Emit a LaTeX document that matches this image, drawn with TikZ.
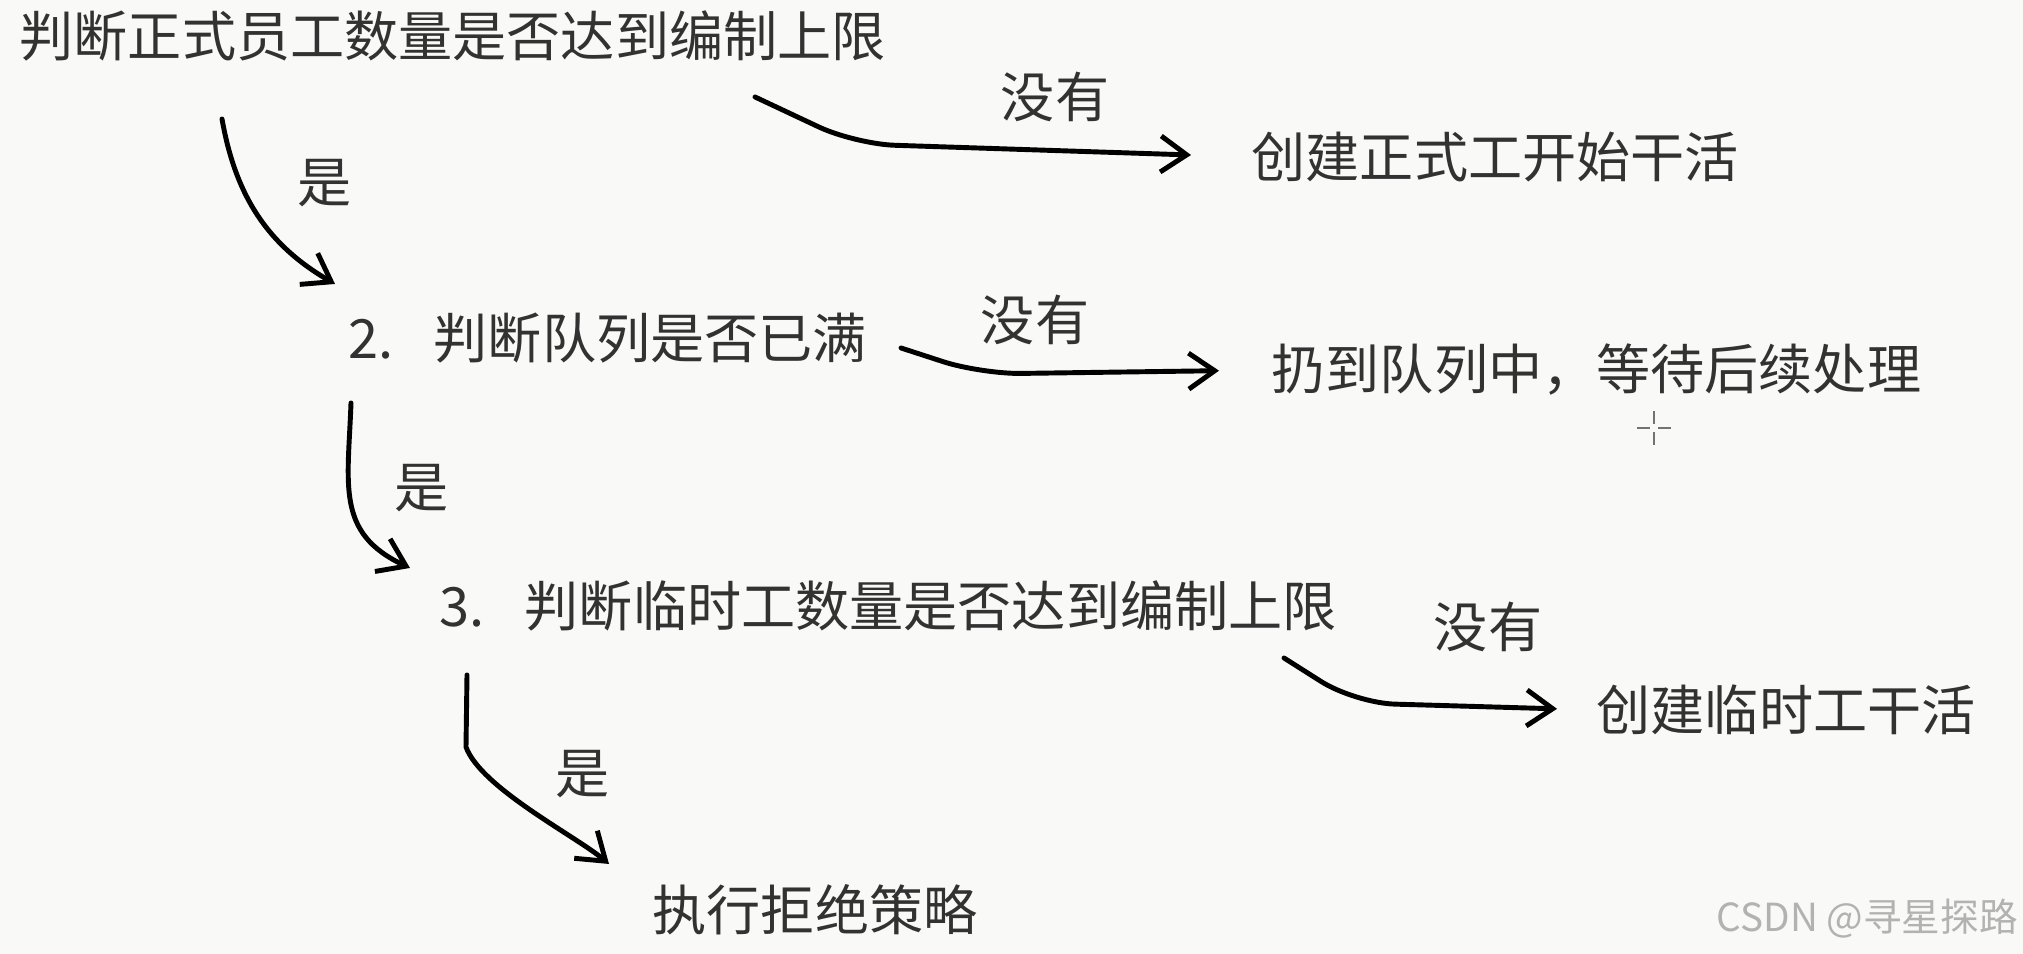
\documentclass[tikz,border=0pt]{standalone}
\usepackage{fontspec}
\setmainfont{Noto Sans CJK SC}
\usepackage{tikz}
\usetikzlibrary{calc,arrows.meta}
\definecolor{paper}{RGB}{249,249,247}
\definecolor{ink}{RGB}{50,50,50}
\tikzset{
	qtext/.style={anchor=west,inner sep=0pt,text=ink,font=\fontsize{15.4}{18}\selectfont},
	lbl/.style={inner sep=0pt,text=ink,font=\fontsize{15.4}{18}\selectfont},
	handarrow/.style={-{Straight Barb[length=2.6mm,width=3.6mm]},line width=1.4pt,line cap=round,line join=round}
}

\begin{document}
\begin{tikzpicture}[
			kinkarrow/.style={handarrow,rounded corners=4mm},
			cursor/.style={draw=black!55,line width=0.7pt}]
			
			\fill[paper] (0,0) rectangle (20.23,9.54);
			\useasboundingbox (0,0) rectangle (20.23,9.54);
			
			\node[qtext] (q1) at (0.19,9.18) {判断正式员工数量是否达到编制上限};
			\node[qtext] (r1) at (12.51,7.97) {创建正式工开始干活};
			\node[qtext] (q2) at (3.48,6.16) {2.\hspace{4mm}判断队列是否已满};
			\node[qtext] (r2) at (12.71,5.84) {扔到队列中，等待后续处理};
			\node[qtext] (q3) at (4.39,3.48) {3.\hspace{4mm}判断临时工数量是否达到编制上限};
			\node[qtext] (r3) at (15.96,2.44) {创建临时工干活};
			\node[qtext] (reject) at (6.52,0.44) {执行拒绝策略};
			
			\node[lbl] (no1) at (10.55,8.57) {没有};
			\node[lbl] (yes1) at (3.25,7.71) {是};
			\node[lbl] (no2) at (10.35,6.34) {没有};
			\node[lbl] (yes2) at (4.22,4.66) {是};
			\node[lbl] (no3) at (14.88,3.27) {没有};
			\node[lbl] (yes3) at (5.83,1.80) {是};
			
			\coordinate (n1s) at (7.55,8.57);
			\coordinate (n1b) at (8.55,8.10);
			\coordinate (n2s) at (9.01,6.06);
			\coordinate (n2b) at (9.81,5.80);
			\coordinate (n3s) at (12.84,2.96);
			\coordinate (n3b) at (13.55,2.51);
			\draw[kinkarrow,shorten >=6mm] (n1s) -- (n1b) -- (r1.west);
			\draw[kinkarrow,shorten >=5.2mm] (n2s) -- (n2b) -- (r2.west);
			\draw[kinkarrow,shorten >=3.9mm] (n3s) -- (n3b) -- (r3.west);
			
			\coordinate (y1s) at (2.22,8.35);
			\coordinate (y1e) at (3.35,6.70);
			\coordinate (y2s) at (3.51,5.51);
			\coordinate (y2e) at (4.10,3.86);
			\coordinate (y3s) at (4.67,2.79);
			\coordinate (y3e) at (6.09,0.90);
			\draw[handarrow] (y1s) to[out=-80,in=150] (y1e);
			\draw[handarrow] (y2s) to[out=-92,in=155,looseness=1.2] (y2e);
			\draw[handarrow] (y3s) -- (4.66,2.07) to[out=-70,in=140,looseness=0.6] (y3e);
			
			\draw[cursor] (16.54,5.09) -- (16.54,5.22) (16.54,5.30) -- (16.54,5.43);
			\draw[cursor] (16.37,5.26) -- (16.50,5.26) (16.58,5.26) -- (16.71,5.26);
			
			\node[anchor=west,inner sep=0pt,text=black!30,font=\fontsize{11}{13}\selectfont]
			(mark) at (17.16,0.35) {CSDN @寻星探路};
		\end{tikzpicture}
\end{document}
